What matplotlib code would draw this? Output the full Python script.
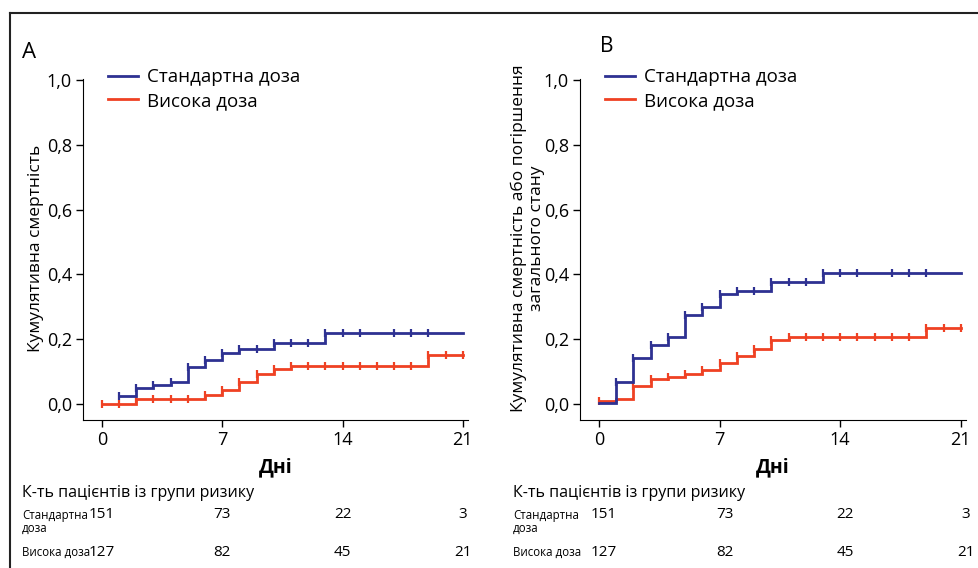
import numpy as np
import matplotlib
matplotlib.use("Agg")
import matplotlib.pyplot as plt
from matplotlib.lines import Line2D
from matplotlib.transforms import blended_transform_factory

plt.rcParams['font.family'] = ['Open Sans', 'DejaVu Sans']

BLUE = '#2e3192'
RED = '#ef4123'

# панель A: кумулятивна смертність
a_std_t = [1, 2, 3, 4, 5, 6, 7, 8, 10, 13, 21]
a_std_v = [0.025, 0.049, 0.059, 0.067, 0.114, 0.134, 0.158, 0.169, 0.187, 0.219, 0.219]
a_std_marks = [1, 2, 3, 4, 5, 6, 7, 8, 9, 10, 11, 12, 13, 14, 15, 17, 18, 19]

a_high_t = [0, 2, 6, 7, 8, 9, 10, 11, 19, 21]
a_high_v = [0.0, 0.014, 0.027, 0.042, 0.067, 0.091, 0.107, 0.118, 0.151, 0.151]
a_high_marks = list(range(0, 22))

# панель B: смертність або погіршення стану
b_std_t = [0, 1, 2, 3, 4, 5, 6, 7, 8, 10, 13, 21]
b_std_v = [0.002, 0.068, 0.141, 0.182, 0.205, 0.275, 0.300, 0.340, 0.350, 0.378, 0.403, 0.403]
b_std_marks = [1, 2, 3, 4, 5, 6, 7, 8, 9, 10, 11, 12, 13, 14, 15, 17, 18, 19]

b_high_t = [0, 1, 2, 3, 4, 5, 6, 7, 8, 9, 10, 11, 19, 21]
b_high_v = [0.009, 0.016, 0.056, 0.076, 0.084, 0.093, 0.103, 0.126, 0.148, 0.169, 0.198, 0.206, 0.234, 0.234]
b_high_marks = [0, 2, 3, 4, 5, 6, 7, 8, 9, 10, 11, 12, 13, 14, 15, 16, 17, 18, 19, 20, 21]

# таблиця ризику
risk_days = [0, 7, 14, 21]
risk_std = [151, 73, 22, 3]
risk_high = [127, 82, 45, 21]

x_ticks = [0, 7, 14, 21]
y_ticks = [0.0, 0.2, 0.4, 0.6, 0.8, 1.0]
y_tick_labels = ['0,0', '0,2', '0,4', '0,6', '0,8', '1,0']


def step_value(t, v, day):
    i = np.searchsorted(t, day, side='right') - 1
    return v[max(i, 0)]


def draw_curve(ax, t, v, marks, color):
    t = np.array(t, dtype=float)
    v = np.array(v)
    ax.step(t, v, where='post', color=color, lw=2, solid_joinstyle='miter')
    my = [step_value(t, v, d) for d in marks]
    ax.plot(marks, my, ls='none', marker='|', ms=6, mew=1.6, color=color)


def setup_axes(ax, ylabel):
    ax.set_xlim(-1.1, 21.3)
    ax.set_ylim(-0.05, 1.01)
    for s in ['top', 'right']:
        ax.spines[s].set_visible(False)
    ax.spines['left'].set_bounds(-0.05, 1.005)
    ax.set_xticks(x_ticks)
    ax.set_yticks(y_ticks)
    ax.set_yticklabels(y_tick_labels)
    ax.tick_params(labelsize=13, length=5, width=1, direction='out', pad=3)
    ax.set_xlabel('Дні', fontsize=14, fontweight='bold', labelpad=6)
    ax.set_ylabel(ylabel, fontsize=12.5)
    handles = [Line2D([], [], color=BLUE, lw=2), Line2D([], [], color=RED, lw=2)]
    ax.legend(handles, ['Стандартна доза', 'Висока доза'], loc='upper left',
              bbox_to_anchor=(0.02, 1.075), frameon=False, fontsize=13.5,
              handlelength=1.6, handletextpad=0.5, labelspacing=0.3)


def risk_table(fig, ax, x0, num_shift):
    tr = blended_transform_factory(ax.transData, fig.transFigure)
    fig.text(x0, 1 - 493 / 568, 'К-ть пацієнтів із групи ризику', fontsize=11.5, va='center')
    fig.text(x0, 1 - 515 / 568, 'Стандартна', fontsize=8.3, va='center')
    fig.text(x0, 1 - 528 / 568, 'доза', fontsize=8.3, va='center')
    fig.text(x0, 1 - 552 / 568, 'Висока доза', fontsize=8.3, va='center')
    for d, ns, nh in zip(risk_days, risk_std, risk_high):
        ax.text(d + num_shift, 1 - 515 / 568, str(ns), transform=tr, fontsize=11,
                ha='center', va='center', clip_on=False)
        ax.text(d + num_shift, 1 - 552 / 568, str(nh), transform=tr, fontsize=11,
                ha='center', va='center', clip_on=False)


fig = plt.figure(figsize=(9.79, 5.68), dpi=100)
ax1 = fig.add_axes([83 / 979, 148 / 568, 385 / 979, 343 / 568])
ax2 = fig.add_axes([580 / 979, 148 / 568, 386 / 979, 343 / 568])

draw_curve(ax1, a_high_t, a_high_v, a_high_marks, RED)
draw_curve(ax1, a_std_t, a_std_v, a_std_marks, BLUE)
setup_axes(ax1, 'Кумулятивна смертність')
ax1.yaxis.set_label_coords(-0.10, 0.5)

draw_curve(ax2, b_high_t, b_high_v, b_high_marks, RED)
draw_curve(ax2, b_std_t, b_std_v, b_std_marks, BLUE)
setup_axes(ax2, 'Кумулятивна смертність або погіршення\nзагального стану')
ax2.yaxis.set_label_coords(-0.09, 0.53)

fig.text(22 / 979, 1 - 52 / 568, 'A', fontsize=16, va='center')
fig.text(600 / 979, 1 - 47 / 568, 'B', fontsize=15, va='center')

risk_table(fig, ax1, 22 / 979, 0)
risk_table(fig, ax2, 513 / 979, 0.3)

# рамка зверху і зліва
fig.add_artist(Line2D([10 / 979, 1], [1 - 13 / 568, 1 - 13 / 568], color='#222222', lw=1.5,
                      transform=fig.transFigure))
fig.add_artist(Line2D([10 / 979, 10 / 979], [0, 1 - 13 / 568], color='#222222', lw=1.5,
                      transform=fig.transFigure))

fig.savefig('out.png', dpi=100)
